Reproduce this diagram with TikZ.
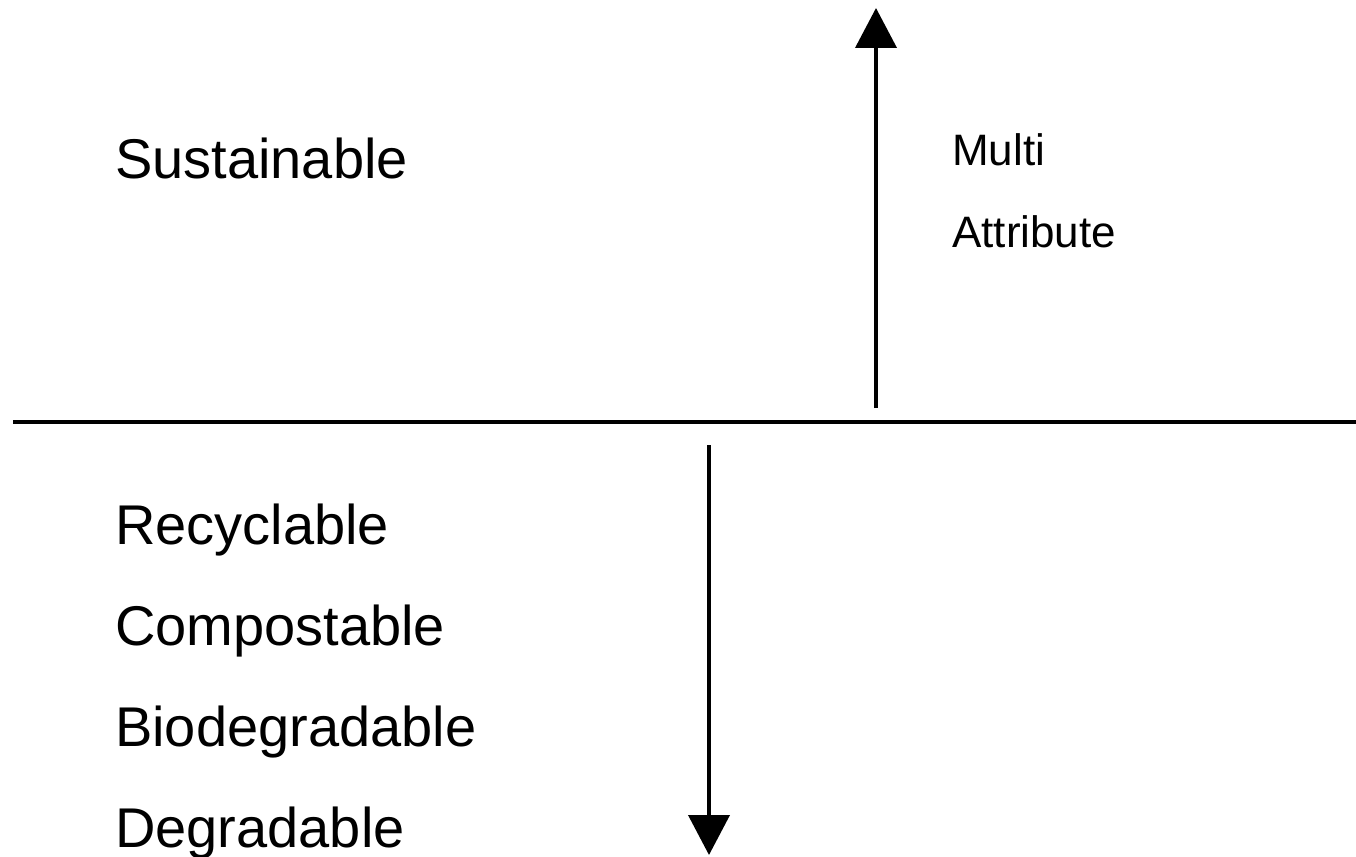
\documentclass[tikz,border=0pt]{standalone}
\usepackage{fontspec}
\setmainfont{Liberation Sans}
\usetikzlibrary{arrows.meta}
\begin{document}
\begin{tikzpicture}[x=1pt,y=-1pt,
  biglabel/.style={anchor=base west,inner sep=0pt,font=\fontsize{56}{60}\selectfont},
  smalllabel/.style={anchor=base west,inner sep=0pt,font=\fontsize{44}{48}\selectfont},
  rule/.style={line width=4pt},
  axis/.style={line width=4pt,-{Triangle[width=41pt,length=40pt]}}]
  \useasboundingbox (0,0) rectangle (1356,856);
  % dividing line
  \coordinate (ruleL) at (13,422);
  \coordinate (ruleR) at (1356,422);
  \draw[rule] (ruleL) -- (ruleR);
  % upward and downward arrows
  \coordinate (upS) at (876,408);
  \coordinate (upE) at (876,8);
  \coordinate (dnS) at (709,445);
  \coordinate (dnE) at (709,855);
  \draw[axis] (upS) -- (upE);
  \draw[axis] (dnS) -- (dnE);
  % labels
  \node[biglabel] (sus) at (115,178) {Sustainable};
  \node[smalllabel] (multi) at (952,165) {Multi};
  \node[smalllabel] (attr) at (952,247) {Attribute};
  \node[biglabel] (rec) at (115,544) {Recyclable};
  \node[biglabel] (comp) at (115,645) {Compostable};
  \node[biglabel] (bio) at (115,746) {Biodegradable};
  \node[biglabel] (deg) at (115,847) {Degradable};
\end{tikzpicture}
\end{document}
